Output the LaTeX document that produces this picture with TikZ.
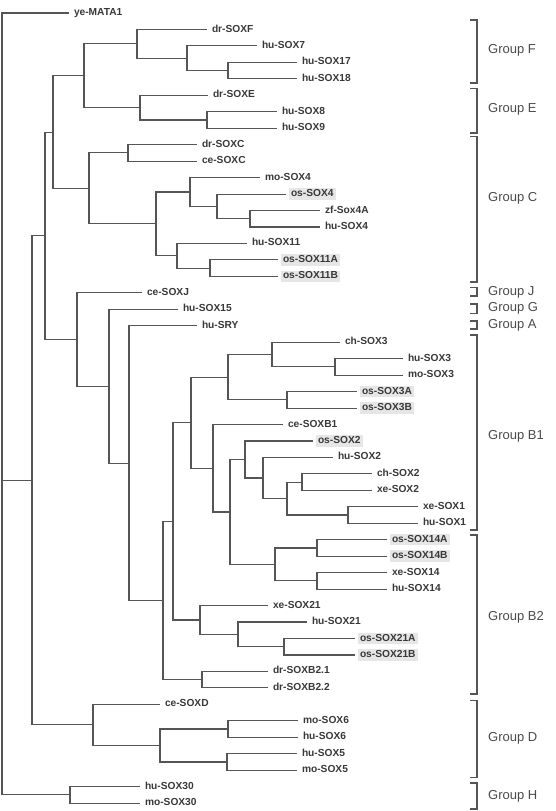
\documentclass[tikz,border=0pt]{standalone}
\usepackage{fontspec}
\setmainfont{Liberation Sans}
\usepackage{tikz}
\usetikzlibrary{positioning}
\definecolor{branchgray}{HTML}{555555}
\definecolor{labelgray}{HTML}{383838}
\definecolor{groupgray}{HTML}{4A4A4A}
\definecolor{boxgray}{HTML}{E6E6E6}

\begin{document}
\begin{tikzpicture}[
x=1pt, y=-16.46pt,
leaf/.style={anchor=west, inner xsep=2pt, inner ysep=1pt, outer xsep=3pt, text height=7.3pt, text depth=2.2pt, text=labelgray, font=\fontsize{10.2}{12}\selectfont\bfseries},
osleaf/.style={leaf, fill=boxgray},
group/.style={anchor=west, inner sep=0pt, text=groupgray, font=\fontsize{13}{15}\selectfont},
branch/.style={draw=branchgray, line width=1.1pt},
bracket/.style={draw=branchgray, line width=1.1pt}
]
\useasboundingbox (0,-0.79) rectangle (555,48.48);

% leaves
\node[leaf] (yeMATA1) at (69,0) {ye-MATA1};
\node[leaf] (drSOXF) at (207,1) {dr-SOXF};
\node[leaf] (huSOX7) at (257,2) {hu-SOX7};
\node[leaf] (huSOX17) at (297,3) {hu-SOX17};
\node[leaf] (huSOX18) at (297,4) {hu-SOX18};
\node[leaf] (drSOXE) at (208,5) {dr-SOXE};
\node[leaf] (huSOX8) at (277,6) {hu-SOX8};
\node[leaf] (huSOX9) at (277,7) {hu-SOX9};
\node[leaf] (drSOXC) at (197,8) {dr-SOXC};
\node[leaf] (ceSOXC) at (197,9) {ce-SOXC};
\node[leaf] (moSOX4) at (260,10) {mo-SOX4};
\node[osleaf] (osSOX4) at (286,11) {os-SOX4};
\node[leaf] (zfSox4A) at (320,12) {zf-Sox4A};
\node[leaf] (huSOX4) at (320,13) {hu-SOX4};
\node[leaf] (huSOX11) at (247,14) {hu-SOX11};
\node[osleaf] (osSOX11A) at (278,15) {os-SOX11A};
\node[osleaf] (osSOX11B) at (278,16) {os-SOX11B};
\node[leaf] (ceSOXJ) at (142,17) {ce-SOXJ};
\node[leaf] (huSOX15) at (178,18) {hu-SOX15};
\node[leaf] (huSRY) at (197,19) {hu-SRY};
\node[leaf] (chSOX3) at (340,20) {ch-SOX3};
\node[leaf] (huSOX3) at (403,21) {hu-SOX3};
\node[leaf] (moSOX3) at (403,22) {mo-SOX3};
\node[osleaf] (osSOX3A) at (357,23) {os-SOX3A};
\node[osleaf] (osSOX3B) at (357,24) {os-SOX3B};
\node[leaf] (ceSOXB1) at (283,25) {ce-SOXB1};
\node[osleaf] (osSOX2) at (313,26) {os-SOX2};
\node[leaf] (huSOX2) at (333,27) {hu-SOX2};
\node[leaf] (chSOX2) at (372,28) {ch-SOX2};
\node[leaf] (xeSOX2) at (372,29) {xe-SOX2};
\node[leaf] (xeSOX1) at (418,30) {xe-SOX1};
\node[leaf] (huSOX1) at (418,31) {hu-SOX1};
\node[osleaf] (osSOX14A) at (387,32) {os-SOX14A};
\node[osleaf] (osSOX14B) at (387,33) {os-SOX14B};
\node[leaf] (xeSOX14) at (387,34) {xe-SOX14};
\node[leaf] (huSOX14) at (387,35) {hu-SOX14};
\node[leaf] (xeSOX21) at (268,36) {xe-SOX21};
\node[leaf] (huSOX21) at (307,37) {hu-SOX21};
\node[osleaf] (osSOX21A) at (355,38) {os-SOX21A};
\node[osleaf] (osSOX21B) at (355,39) {os-SOX21B};
\node[leaf] (drSOXB21) at (268,40) {dr-SOXB2.1};
\node[leaf] (drSOXB22) at (268,41) {dr-SOXB2.2};
\node[leaf] (ceSOXD) at (160,42) {ce-SOXD};
\node[leaf] (moSOX6) at (298,43) {mo-SOX6};
\node[leaf] (huSOX6) at (298,44) {hu-SOX6};
\node[leaf] (huSOX5) at (297,45) {hu-SOX5};
\node[leaf] (moSOX5) at (297,46) {mo-SOX5};
\node[leaf] (huSOX30) at (140,47) {hu-SOX30};
\node[leaf] (moSOX30) at (140,48) {mo-SOX30};

% inner nodes
\coordinate (c1718) at (228,3.5);
\coordinate (c7) at (187,2.75);
\coordinate (cF) at (137,1.875);
\coordinate (c89) at (207,6.5);
\coordinate (cE) at (140,5.75);
\coordinate (cFE) at (84,3.8125);
\coordinate (cSOXC) at (128,8.5);
\coordinate (c4b) at (250,12.5);
\coordinate (c4a) at (217,11.75);
\coordinate (c4) at (190,10.875);
\coordinate (c11b) at (210,15.5);
\coordinate (c11) at (177,14.75);
\coordinate (cC2) at (156,12.8125);
\coordinate (cC) at (89,10.656);
\coordinate (cFEC) at (53,7.234);
\coordinate (c3b) at (335,21.5);
\coordinate (c3a) at (272,20.75);
\coordinate (c3AB) at (287,23.5);
\coordinate (c3) at (228,22.125);
\coordinate (c2d) at (302,28.5);
\coordinate (c1) at (348,30.5);
\coordinate (c2c) at (287,29.5);
\coordinate (c2b) at (263,28.25);
\coordinate (c2a) at (245,27.125);
\coordinate (c14a) at (317,32.5);
\coordinate (c14b) at (317,34.5);
\coordinate (c14) at (275,33.5);
\coordinate (c2x14) at (230,30.3125);
\coordinate (cB1) at (213,27.656);
\coordinate (cB1x) at (191,24.89);
\coordinate (c21b) at (284,38.5);
\coordinate (c21a) at (238,37.75);
\coordinate (c21) at (200,36.875);
\coordinate (cB2x) at (173,30.88);
\coordinate (cB22) at (202,40.5);
\coordinate (cB) at (163,35.69);
\coordinate (cSRY) at (129,27.35);
\coordinate (cG) at (109,22.67);
\coordinate (cJ) at (77,19.84);
\coordinate (cTop) at (45,13.54);
\coordinate (c6) at (228,43.5);
\coordinate (c5) at (227,45.5);
\coordinate (c56) at (160,44.5);
\coordinate (cD) at (93,43.25);
\coordinate (cMain) at (32,28.4);
\coordinate (c30) at (70,47.5);
\coordinate (root) at (2,23.75);

% branches
\draw[branch] (root) |- (yeMATA1) (root) |- (cMain) (root) |- (c30);
\draw[branch] (c30) |- (huSOX30) (c30) |- (moSOX30);
\draw[branch] (cMain) |- (cTop) (cMain) |- (cD);
\draw[branch] (cTop) |- (cFEC) (cTop) |- (cJ);
\draw[branch] (cFEC) |- (cFE) (cFEC) |- (cC);
\draw[branch] (cFE) |- (cF) (cFE) |- (cE);
\draw[branch] (cF) |- (drSOXF) (cF) |- (c7);
\draw[branch] (c7) |- (huSOX7) (c7) |- (c1718);
\draw[branch] (c1718) |- (huSOX17) (c1718) |- (huSOX18);
\draw[branch] (cE) |- (drSOXE) (cE) |- (c89);
\draw[branch] (c89) |- (huSOX8) (c89) |- (huSOX9);
\draw[branch] (cC) |- (cSOXC) (cC) |- (cC2);
\draw[branch] (cSOXC) |- (drSOXC) (cSOXC) |- (ceSOXC);
\draw[branch] (cC2) |- (c4) (cC2) |- (c11);
\draw[branch] (c4) |- (moSOX4) (c4) |- (c4a);
\draw[branch] (c4a) |- (osSOX4) (c4a) |- (c4b);
\draw[branch] (c4b) |- (zfSox4A) (c4b) |- (huSOX4);
\draw[branch] (c11) |- (huSOX11) (c11) |- (c11b);
\draw[branch] (c11b) |- (osSOX11A) (c11b) |- (osSOX11B);
\draw[branch] (cJ) |- (ceSOXJ) (cJ) |- (cG);
\draw[branch] (cG) |- (huSOX15) (cG) |- (cSRY);
\draw[branch] (cSRY) |- (huSRY) (cSRY) |- (cB);
\draw[branch] (cB) |- (cB2x) (cB) |- (cB22);
\draw[branch] (cB2x) |- (cB1x) (cB2x) |- (c21);
\draw[branch] (cB1x) |- (c3) (cB1x) |- (cB1);
\draw[branch] (c3) |- (c3a) (c3) |- (c3AB);
\draw[branch] (c3a) |- (chSOX3) (c3a) |- (c3b);
\draw[branch] (c3b) |- (huSOX3) (c3b) |- (moSOX3);
\draw[branch] (c3AB) |- (osSOX3A) (c3AB) |- (osSOX3B);
\draw[branch] (cB1) |- (ceSOXB1) (cB1) |- (c2x14);
\draw[branch] (c2x14) |- (c2a) (c2x14) |- (c14);
\draw[branch] (c2a) |- (osSOX2) (c2a) |- (c2b);
\draw[branch] (c2b) |- (huSOX2) (c2b) |- (c2c);
\draw[branch] (c2c) |- (c2d) (c2c) |- (c1);
\draw[branch] (c2d) |- (chSOX2) (c2d) |- (xeSOX2);
\draw[branch] (c1) |- (xeSOX1) (c1) |- (huSOX1);
\draw[branch] (c14) |- (c14a) (c14) |- (c14b);
\draw[branch] (c14a) |- (osSOX14A) (c14a) |- (osSOX14B);
\draw[branch] (c14b) |- (xeSOX14) (c14b) |- (huSOX14);
\draw[branch] (c21) |- (xeSOX21) (c21) |- (c21a);
\draw[branch] (c21a) |- (huSOX21) (c21a) |- (c21b);
\draw[branch] (c21b) |- (osSOX21A) (c21b) |- (osSOX21B);
\draw[branch] (cB22) |- (drSOXB21) (cB22) |- (drSOXB22);
\draw[branch] (cD) |- (ceSOXD) (cD) |- (c56);
\draw[branch] (c56) |- (c6) (c56) |- (c5);
\draw[branch] (c6) |- (moSOX6) (c6) |- (huSOX6);
\draw[branch] (c5) |- (huSOX5) (c5) |- (moSOX5);

% groups
\draw[bracket] (470,0.425) -| (477,4.25) -- (470,4.25);
\draw[bracket] (470,4.56) -| (477,7.29) -- (470,7.29);
\draw[bracket] (470,7.53) -| (477,16.34) -- (470,16.34);
\draw[bracket] (470,16.65) -| (477,17.19) -- (470,17.19);
\draw[bracket] (470,17.68) -| (477,18.23) -- (470,18.23);
\draw[bracket] (470,18.71) -| (477,19.2) -- (470,19.2);
\draw[bracket] (470,19.56) -| (477,31.41) -- (470,31.41);
\draw[bracket] (470,31.71) -| (477,41.37) -- (470,41.37);
\draw[bracket] (470,41.74) -| (477,46.42) -- (470,46.42);
\draw[bracket] (470,46.78) -| (477,48.36) -- (470,48.36);
\node[group] (gF) at (488,2.25) {Group F};
\node[group] (gE) at (488,5.83) {Group E};
\node[group] (gC) at (488,11.24) {Group C};
\node[group] (gJ) at (488,16.95) {Group J};
\node[group] (gG) at (488,17.92) {Group G};
\node[group] (gA) at (488,18.95) {Group A};
\node[group] (gB1) at (488,25.7) {Group B1};
\node[group] (gB2) at (488,36.7) {Group B2};
\node[group] (gD) at (488,44.05) {Group D};
\node[group] (gH) at (488,47.57) {Group H};
\end{tikzpicture}
\end{document}
